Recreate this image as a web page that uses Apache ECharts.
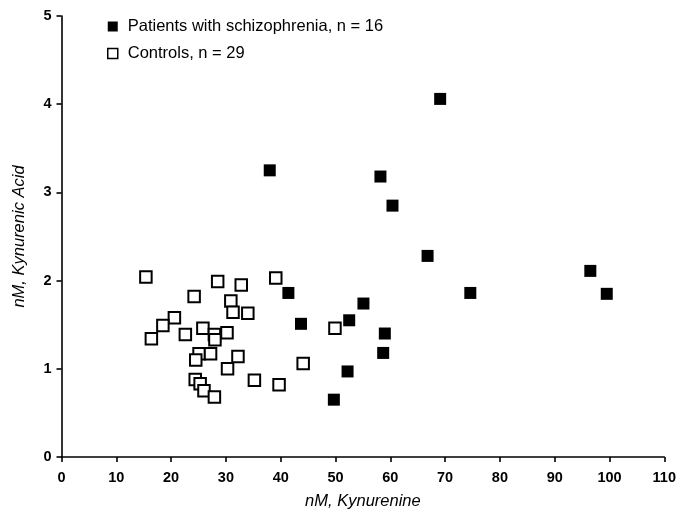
<!DOCTYPE html>
<html>
<head>
<meta charset="utf-8">
<script src="https://cdn.jsdelivr.net/npm/echarts@6/dist/echarts.min.js"></script>
<style>html,body{margin:0;padding:0;background:#fff}#c{width:679px;height:515px}</style>
</head>
<body>
<div id="c"></div>
<script>
var xTicks = [0, 10, 20, 30, 40, 50, 60, 70, 80, 90, 100, 110];
var yTicks = [0, 1, 2, 3, 4, 5];
var patientsName = 'Patients with schizophrenia, n = 16';
var controlsName = 'Controls, n = 29';
var patientsKyn = [69.1, 38.0, 58.2, 60.4, 66.8, 96.5, 99.5, 74.6, 41.4, 55.1, 43.7, 52.5, 59.0, 58.7, 52.2, 49.7];
var patientsKyna = [4.06, 3.25, 3.18, 2.85, 2.28, 2.11, 1.85, 1.86, 1.86, 1.74, 1.51, 1.55, 1.40, 1.18, 0.97, 0.65];
var controlsKyn = [15.4, 28.5, 32.8, 39.1, 24.2, 30.9, 31.3, 34.0, 20.6, 18.5, 16.4, 22.6, 25.8, 27.9, 28.0, 30.2, 25.1, 27.2, 24.5, 32.2, 30.3, 24.4, 25.3, 26.0, 27.9, 35.2, 39.7, 44.1, 49.9];
var controlsKyna = [2.04, 1.99, 1.95, 2.03, 1.82, 1.77, 1.64, 1.63, 1.58, 1.49, 1.34, 1.39, 1.46, 1.39, 1.33, 1.41, 1.17, 1.17, 1.10, 1.14, 1.00, 0.88, 0.83, 0.75, 0.68, 0.87, 0.82, 1.06, 1.46];

function pairs(xs, ys) { return xs.map(function (x, i) { return [x, ys[i]]; }); }

var font = 'Arial, "Liberation Sans", sans-serif';
var chart = echarts.init(document.getElementById('c'));
chart.setOption({
  animation: false,
  backgroundColor: '#fff',
  grid: { left: 61.5, right: 11, top: 16, bottom: 53, containLabel: false },
  legend: {
    orient: 'vertical', left: 107, top: 18, padding: 0,
    itemWidth: 10, itemHeight: 10, itemGap: 10,
    textStyle: { fontFamily: font, fontSize: 16.5, color: '#000', lineHeight: 16, padding: [0, 0, 0, 5] },
    data: [
      { name: patientsName, icon: 'rect', itemStyle: { color: '#000', borderWidth: 0 } },
      { name: controlsName, icon: 'rect', itemStyle: { color: '#fff', borderColor: '#000', borderWidth: 1.5 } }
    ]
  },
  xAxis: {
    type: 'value', min: xTicks[0], max: xTicks[xTicks.length - 1], interval: 10,
    name: 'nM, Kynurenine', nameLocation: 'middle', nameGap: 36,
    nameTextStyle: { fontFamily: font, fontSize: 16.5, fontStyle: 'italic', color: '#000' },
    axisLine: { lineStyle: { color: '#000', width: 1.6 } },
    axisTick: { show: true, length: 5, lineStyle: { color: '#000', width: 1.6 } },
    axisLabel: { fontFamily: font, fontSize: 14.5, fontWeight: 'bold', color: '#000', margin: 13 },
    splitLine: { show: false }
  },
  yAxis: {
    type: 'value', min: yTicks[0], max: yTicks[yTicks.length - 1], interval: 1,
    name: 'nM, Kynurenic Acid', nameLocation: 'middle', nameGap: 34,
    nameTextStyle: { fontFamily: font, fontSize: 16.5, fontStyle: 'italic', color: '#000' },
    axisLine: { show: true, lineStyle: { color: '#000', width: 1.6 } },
    axisTick: { show: true, length: 5, lineStyle: { color: '#000', width: 1.6 } },
    axisLabel: { fontFamily: font, fontSize: 14.5, fontWeight: 'bold', color: '#000', margin: 10 },
    splitLine: { show: false }
  },
  series: [
    {
      name: controlsName, type: 'scatter', symbol: 'rect', symbolSize: 11.5, z: 2,
      itemStyle: { color: '#fff', borderColor: '#000', borderWidth: 2, opacity: 1 },
      data: pairs(controlsKyn, controlsKyna)
    },
    {
      name: patientsName, type: 'scatter', symbol: 'rect', symbolSize: 12, z: 3,
      itemStyle: { color: '#000', opacity: 1 },
      data: pairs(patientsKyn, patientsKyna)
    }
  ]
});
</script>
</body>
</html>
